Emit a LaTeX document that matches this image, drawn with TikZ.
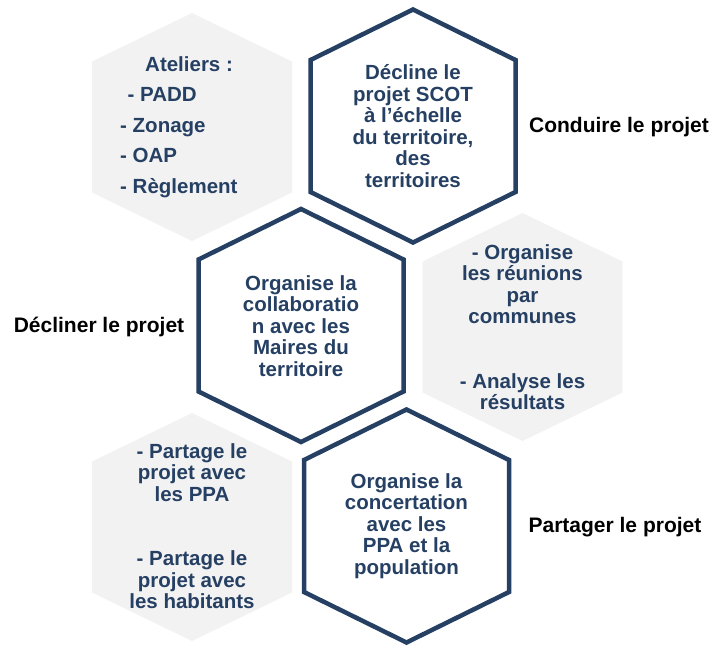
\documentclass[tikz,border=0pt]{standalone}
\usepackage{fontspec}
\setmainfont{Liberation Sans}
\usepackage{xcolor}

\definecolor{navy}{RGB}{38,64,100}
\definecolor{hexgray}{RGB}{242,242,242}

\tikzset{
  grayhex/.style={fill=hexgray},
  bluehex/.style={draw=navy, line width=4.5pt},
  hextext/.style={text=navy, align=center, inner sep=0pt,
    font=\bfseries\fontsize{20.5}{21.5}\selectfont},
  steplabel/.style={text=black, inner sep=0pt,
    font=\bfseries\fontsize{21}{22}\selectfont}
}

\begin{document}
\begin{tikzpicture}[x=1pt, y=-1pt]
        \useasboundingbox (0,0) rectangle (728,648);

        % grey hexagons
        \foreach \cx/\cy in {192/127, 522.5/327, 192/527}
          \fill[grayhex, shift={(\cx,\cy)}] (0,-114) -- (100,-65.5) -- (100,65.5) -- (0,114) -- (-100,65.5) -- (-100,-65.5) -- cycle;

        % outlined hexagons
        \foreach \cx/\cy in {413/126, 301/325.5, 406.5/526}
          \draw[bluehex, shift={(\cx,\cy)}] (0,-116.5) -- (102.5,-66) -- (102.5,66) -- (0,116.5) -- (-102.5,66) -- (-102.5,-66) -- cycle;

        \node[hextext, align=left, anchor=west, font=\bfseries\fontsize{20.5}{30.5}\selectfont] (ateliers) at (120,127)
          {\hspace{25pt}Ateliers :\\ \hspace{7.5pt}- PADD\\ - Zonage\\ - OAP\\ - Règlement};
        \node[hextext] (decline) at (413,126)
          {Décline le\\ projet SCOT\\ à l’échelle\\ du territoire,\\ des\\ territoires};
        \node[hextext] (collab) at (301,326)
          {Organise la\\ collaboratio\\ n avec les\\ Maires du\\ territoire};
        \node[hextext] (reunions) at (522.5,327)
          {- Organise\\ les réunions\\ par\\ communes\\[43pt] - Analyse les\\ résultats};
        \node[hextext] (partage) at (192,526)
          {- Partage le\\ projet avec\\ les PPA\\[43pt] - Partage le\\ projet avec\\ les habitants};
        \node[hextext] (concert) at (406.5,526)
          {Organise la\\ concertation\\ avec les\\ PPA et la\\ population};

        \node[steplabel] (conduire) at (619,127) {Conduire le projet};
        \node[steplabel] (decliner) at (99,327) {Décliner le projet};
        \node[steplabel] (partager) at (615,527) {Partager le projet};

      \end{tikzpicture}
\end{document}
